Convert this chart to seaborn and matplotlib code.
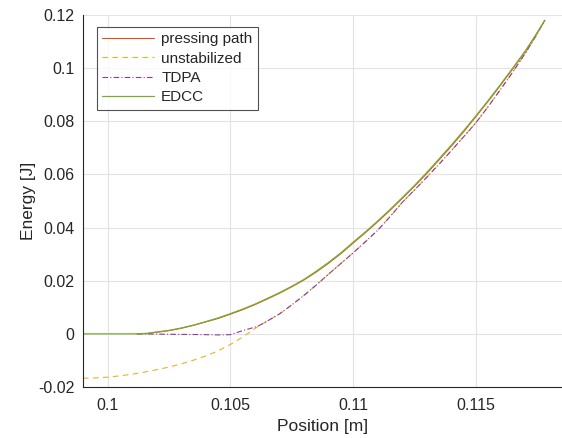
import matplotlib
matplotlib.use("Agg")
import matplotlib.pyplot as plt
import seaborn as sns
import pandas as pd

# ---- data ----
edcc_x = [0.0990, 0.1000, 0.1012, 0.1016, 0.1020, 0.1025, 0.1030, 0.1035, 0.1040, 0.1045,
          0.1050, 0.1055, 0.1060, 0.1065, 0.1070, 0.1075, 0.1080, 0.1085, 0.1090, 0.1095,
          0.1100, 0.1105, 0.1110, 0.1115, 0.1120, 0.1125, 0.1130, 0.1135, 0.1140, 0.1145,
          0.1150, 0.1155, 0.1160, 0.1165, 0.1170, 0.1174, 0.1178]
edcc_y = [0.0, 0.0, 0.0, 0.0002, 0.0007, 0.0013, 0.0022, 0.0033, 0.0046, 0.0060,
          0.0076, 0.0093, 0.0112, 0.0133, 0.0155, 0.0179, 0.0205, 0.0236, 0.0269, 0.0305,
          0.0345, 0.0384, 0.0425, 0.0468, 0.0513, 0.0559, 0.0608, 0.0659, 0.0711, 0.0765,
          0.0821, 0.0879, 0.0939, 0.1001, 0.1064, 0.1120, 0.1180]

press_x = [0.1012, 0.1016, 0.1020, 0.1025, 0.1030, 0.1035, 0.1040, 0.1045,
           0.1050, 0.1055, 0.1060, 0.1065, 0.1070, 0.1075, 0.1080, 0.1085, 0.1090, 0.1095,
           0.1100, 0.1105, 0.1110, 0.1115, 0.1120, 0.1125, 0.1130, 0.1135, 0.1140, 0.1145,
           0.1150, 0.1155, 0.1160, 0.1165, 0.1170, 0.1174, 0.1178]
press_y = [0.0, 0.0001, 0.0006, 0.0012, 0.0021, 0.0032, 0.0045, 0.0058,
           0.0074, 0.0091, 0.0110, 0.0131, 0.0153, 0.0177, 0.0203, 0.0233, 0.0266, 0.0302,
           0.0342, 0.0381, 0.0422, 0.0465, 0.0510, 0.0556, 0.0604, 0.0655, 0.0707, 0.0761,
           0.0818, 0.0876, 0.0936, 0.0998, 0.1062, 0.1119, 0.1180]

unstab_x = [0.0990, 0.0995, 0.1000, 0.1005, 0.1010, 0.1015, 0.1020, 0.1025, 0.1030, 0.1035,
            0.1040, 0.1045, 0.1050, 0.1055, 0.1061, 0.1065, 0.1070, 0.1075, 0.1080, 0.1085,
            0.1090, 0.1095, 0.1100, 0.1105, 0.1110, 0.1115, 0.1120, 0.1125, 0.1130, 0.1135,
            0.1140, 0.1145, 0.1150, 0.1155, 0.1160, 0.1165, 0.1170, 0.1174, 0.1178]
unstab_y = [-0.0167, -0.0166, -0.0163, -0.0158, -0.0152, -0.0144, -0.0135, -0.0125, -0.0113, -0.0099,
            -0.0083, -0.0064, -0.0040, -0.0012, 0.0026, 0.0048, 0.0075, 0.0109, 0.0145, 0.0184,
            0.0225, 0.0265, 0.0305, 0.0347, 0.0390, 0.0441, 0.0495, 0.0542, 0.0590, 0.0639,
            0.0690, 0.0742, 0.0795, 0.0856, 0.0920, 0.0986, 0.1055, 0.1115, 0.1180]

tdpa_x = [0.1012, 0.1020, 0.1030, 0.1040, 0.1045, 0.1050, 0.1055, 0.1061, 0.1065, 0.1070,
          0.1075, 0.1080, 0.1085, 0.1090, 0.1095, 0.1100, 0.1105, 0.1110, 0.1115, 0.1120,
          0.1125, 0.1130, 0.1135, 0.1140, 0.1145, 0.1150, 0.1155, 0.1160, 0.1165, 0.1170,
          0.1174, 0.1178]
tdpa_y = [0.0, -0.0001, -0.0002, -0.0003, -0.0004, -0.0003, 0.0012, 0.0028, 0.0048, 0.0075,
          0.0109, 0.0145, 0.0184, 0.0225, 0.0265, 0.0305, 0.0347, 0.0390, 0.0441, 0.0495,
          0.0542, 0.0590, 0.0639, 0.0690, 0.0742, 0.0795, 0.0856, 0.0920, 0.0986, 0.1055,
          0.1115, 0.1180]

labels = ["pressing path", "unstabilized", "TDPA", "EDCC"]
x_ticks = [0.1, 0.105, 0.11, 0.115]
x_tick_labels = ["0.1", "0.105", "0.11", "0.115"]
y_ticks = [-0.02, 0, 0.02, 0.04, 0.06, 0.08, 0.1, 0.12]
y_tick_labels = ["-0.02", "0", "0.02", "0.04", "0.06", "0.08", "0.1", "0.12"]

sns.set_style("white")
plt.rcParams["font.family"] = ["Liberation Sans", "DejaVu Sans"]

fig = plt.figure(figsize=(5.62, 4.38), dpi=100)
ax = fig.add_axes([83 / 562, 1 - 387 / 438, (562 - 83) / 562, (387 - 15) / 438])

series = [
    (press_x, press_y, labels[0], "#D95319", "-", 0.8),
    (unstab_x, unstab_y, labels[1], "#EDB120", (0, (5, 4)), 0.8),
    (tdpa_x, tdpa_y, labels[2], "#8E3A9E", (0, (5, 2, 1, 2)), 0.8),
    (edcc_x, edcc_y, labels[3], "#77AC30", "-", 0.9),
]
for xs, ys, lab, col, ls, lw in series:
    df = pd.DataFrame({"x": xs, "y": ys})
    sns.lineplot(data=df, x="x", y="y", ax=ax, color=col, linewidth=lw,
                 linestyle=ls, sort=False, estimator=None, label=lab)

ax.set_xlim(0.099, 0.1185)
ax.set_ylim(-0.02, 0.12)
ax.set_xticks(x_ticks)
ax.set_xticklabels(x_tick_labels)
ax.set_yticks(y_ticks)
ax.set_yticklabels(y_tick_labels)
ax.grid(True, color="#e3e3e3", linewidth=0.8)
ax.set_axisbelow(True)
for s in ["top", "right"]:
    ax.spines[s].set_visible(False)
for s in ["left", "bottom"]:
    ax.spines[s].set_color("#262626")
    ax.spines[s].set_linewidth(0.8)
ax.tick_params(axis="both", direction="in", length=4, width=0.8, colors="#262626",
               labelsize=11.5, labelcolor="#262626")
ax.tick_params(axis="x", pad=8)
ax.tick_params(axis="y", pad=6)
ax.set_xlabel("Position [m]", fontsize=12.5, color="#262626", labelpad=4)
ax.set_ylabel("Energy [J]", fontsize=12.5, color="#262626", labelpad=2)

leg = ax.legend(loc="upper left", bbox_to_anchor=((97 - 83) / 479, 1 - (27 - 15) / 372),
                frameon=True, fancybox=False, fontsize=11, handlelength=3.4,
                borderpad=0.35, labelspacing=0.35, handletextpad=0.45, borderaxespad=0)
leg.get_frame().set_edgecolor("#262626")
leg.get_frame().set_linewidth(0.8)
for t in leg.get_texts():
    t.set_color("#262626")

fig.savefig("out.png", dpi=100)
